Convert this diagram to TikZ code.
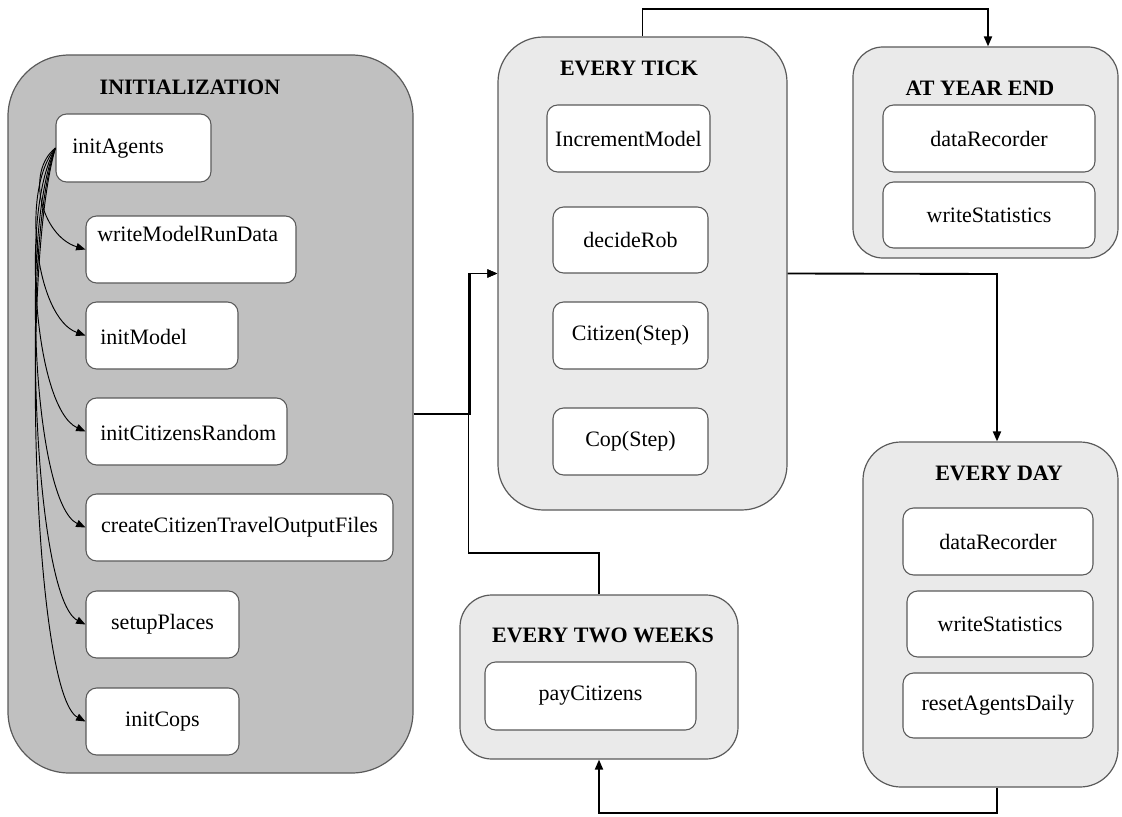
\documentclass[tikz,border=0pt]{standalone}
\usepackage{fontspec}
\setmainfont{Liberation Serif}
\newfontfamily\boxface{Liberation Serif}
\usetikzlibrary{arrows.meta,fit}

\definecolor{initfill}{HTML}{C0C0C0}
\definecolor{grpfill}{HTML}{EAEAEA}
\definecolor{rim}{HTML}{5A5A5A}

\begin{document}
\begin{tikzpicture}[x=0.75pt,y=-0.75pt,
  txt/.style={font=\boxface\fontsize{16.5pt}{19pt}\selectfont, text=black},
  lbl/.style={txt, inner sep=0pt},
  ttl/.style={font=\boxface\bfseries\fontsize{16.5pt}{19pt}\selectfont, inner sep=0pt},
  group/.style={draw=rim, line width=0.9pt, inner sep=0pt},
  initgroup/.style={group, fill=initfill, rounded corners=46pt},
  tickgroup/.style={group, fill=grpfill, rounded corners=34pt},
  yeargroup/.style={group, fill=grpfill, rounded corners=22.5pt},
  daygroup/.style={group, fill=grpfill, rounded corners=28.5pt},
  weekgroup/.style={group, fill=grpfill, rounded corners=24pt},
  wbox/.style={draw=rim, line width=0.8pt, fill=white, rounded corners=8pt, inner sep=0pt},
  conn/.style={line width=1.4pt, -{Triangle[length=7.5pt,width=6pt]}},
  curv/.style={line width=0.7pt, -{Triangle[length=7pt,width=5.5pt]}}
]
\useasboundingbox (0,0) rectangle (1122,817);

% ---------- group frames ----------
\node[initgroup, fit={(8,55) (413,773)}] (init) {};
\node[tickgroup, fit={(498,37) (787,510)}] (tick) {};
\node[yeargroup, fit={(853,47) (1118,258)}] (year) {};
\node[daygroup, fit={(863,442) (1118,787)}] (day) {};
\node[weekgroup, fit={(460,595) (738,759)}] (week) {};

% ---------- titles ----------
\node[ttl] (initT) at (190,87) {INITIALIZATION};
\node[ttl] (tickT) at (629,68) {EVERY TICK};
\node[ttl] (yearT) at (980,88) {AT YEAR END};
\node[ttl] (dayT) at (999,473) {EVERY DAY};
\node[ttl] (weekT) at (603,635) {EVERY TWO WEEKS};

% ---------- initialization steps ----------
\node[wbox, fit={(56,114) (211,182)}] (ia) {};
\node[lbl, anchor=west] (iaT) at (72,149) {initAgents};
\node[wbox, fit={(86,216) (296,283)}] (wm) {};
\node[lbl, anchor=west] (wmT) at (97,234) {writeModelRunData};
\node[wbox, fit={(86,302) (238,369)}] (im) {};
\node[lbl, anchor=west] (imT) at (100,337) {initModel};
\node[wbox, fit={(86,398) (287,465)}] (icr) {};
\node[lbl, anchor=west] (icrT) at (100,433) {initCitizensRandom};
\node[wbox, fit={(86,494) (393,561)}, label={[lbl]center:createCitizenTravelOutputFiles}] (cct) {};
\node[wbox, fit={(86,591) (239,658)}, label={[lbl]center:setupPlaces}] (sp) {};
\node[wbox, fit={(86,688) (239,755)}, label={[lbl]center:initCops}] (ic) {};

% ---------- per-tick steps ----------
\node[wbox, fit={(547,105) (710,172)}, label={[lbl]center:IncrementModel}] (inc) {};
\node[wbox, fit={(553,207) (708,273)}, label={[lbl]center:decideRob}] (rob) {};
\node[wbox, fit={(553,302) (708,369)}, label={[lbl]center:Citizen(Step)}] (cit) {};
\node[wbox, fit={(553,408) (708,475)}, label={[lbl]center:Cop(Step)}] (cop) {};

% ---------- year-end steps ----------
\node[wbox, fit={(883,105) (1095,172)}, label={[lbl]center:dataRecorder}] (ydr) {};
\node[wbox, fit={(883,182) (1095,248)}, label={[lbl]center:writeStatistics}] (yws) {};

% ---------- daily steps ----------
\node[wbox, fit={(903,508) (1093,575)}, label={[lbl]center:dataRecorder}] (ddr) {};
\node[wbox, fit={(907,591) (1093,657)}, label={[lbl]center:writeStatistics}] (dws) {};
\node[wbox, fit={(903,673) (1093,738)}, label={[lbl]center:resetAgentsDaily}] (drs) {};

% ---------- fortnightly step ----------
\node[wbox, fit={(485,662) (696,730)}, label={[lbl]center:payCitizens}] (pay) {};

% ---------- initAgents fan-out ----------
\draw[curv] (ia.west) .. controls (25,172) and (42,236) .. (wm.west);
\draw[curv] (ia.west) .. controls (20,190) and (36,318) .. (im.west);
\draw[curv] (ia.west) .. controls (20,210) and (34,408) .. (icr.west);
\draw[curv] (ia.west) .. controls (20,230) and (34,503) .. (cct.west);
\draw[curv] (ia.west) .. controls (20,250) and (34,598) .. (sp.west);
\draw[curv] (ia.west) .. controls (20,270) and (34,694) .. (ic.west);

% ---------- schedule connectors ----------
\coordinate (join) at (470,0);
\coordinate (weekbend) at (468.5,553);
\coordinate (topbend) at (988,9);
\coordinate (daycol) at (997,274);
\coordinate (bottom) at (997,813);

\draw[conn] (init.east) -- (init.east -| join) -- (join |- tick.west) -- (tick.west);
\draw[conn] (week.north) |- (weekbend) -- (weekbend |- tick.west) -- (tick.west);
\draw[conn] (tick.north) |- (topbend) -- (topbend |- year.north);
\draw[conn] (tick.east) -- (daycol) -- (daycol |- day.north);
\draw[conn] (bottom |- day.south) -- (bottom) -| (week.south);
\end{tikzpicture}
\end{document}
